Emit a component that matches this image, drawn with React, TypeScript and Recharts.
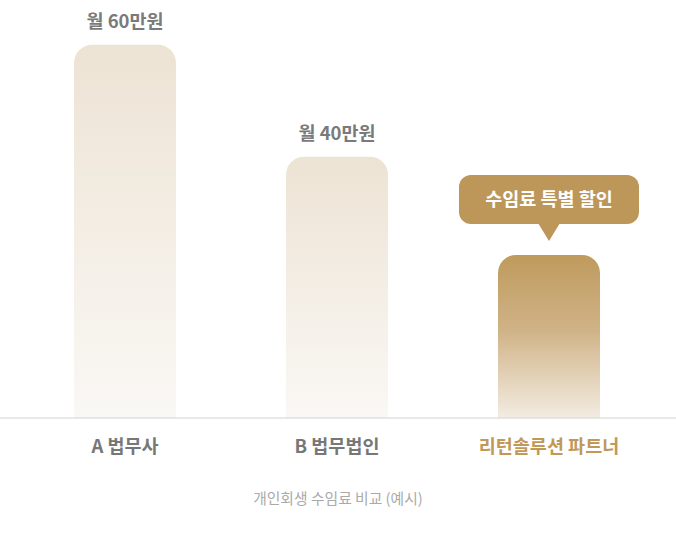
import React from "react";
import { BarChart, Bar, XAxis, YAxis, Cell, LabelList } from "recharts";

const categories = ["A 법무사", "B 법무법인", "리턴솔루션 파트너"];
const barLevels = [100, 70, 43.7];
const priceLabels = ["월 60만원", "월 40만원", "수임료 특별 할인"];
const caption = "개인회생 수임료 비교 (예시)";

const data = categories.map((name, i) => ({
  name,
  level: barLevels[i],
  label: priceLabels[i],
}));

const FONT = "'Noto Sans CJK KR', 'Noto Sans', sans-serif";
const GOLD = "#bd965a";

function BarLabel(props: any) {
  const { x, y, width, index, value } = props;
  const cx = x + width / 2;
  if (index < 2) {
    return (
      <text
        x={cx}
        y={y - 17}
        textAnchor="middle"
        fill="#7a7a7a"
        fontSize={18.5}
        fontWeight={700}
        fontFamily={FONT}
      >
        {value}
      </text>
    );
  }
  const w = 180;
  const h = 49;
  const r = 12;
  const bottom = y - 31;
  const top = bottom - h;
  const left = cx - w / 2;
  return (
    <g>
      <rect x={left} y={top} width={w} height={h} rx={r} ry={r} fill={GOLD} />
      <path
        d={`M ${cx - 11} ${bottom - 1} L ${cx + 11} ${bottom - 1} L ${cx} ${bottom + 17} Z`}
        fill={GOLD}
      />
      <text
        x={cx}
        y={top + h / 2 + 6.5}
        textAnchor="middle"
        fill="#ffffff"
        fontSize={18.5}
        fontWeight={700}
        fontFamily={FONT}
      >
        {value}
      </text>
    </g>
  );
}

function CategoryTick(props: any) {
  const { x, y, payload, index } = props;
  return (
    <text
      x={x}
      y={y + 27}
      textAnchor="middle"
      fill={index === 2 ? "#c09858" : "#777777"}
      fontSize={18.5}
      fontWeight={700}
      fontFamily={FONT}
    >
      {payload.value}
    </text>
  );
}

export default function App() {
  return (
    <div
      style={{
        position: "absolute",
        left: 0,
        top: 0,
        width: 676,
        height: 549,
        background: "#ffffff",
        fontFamily: FONT,
      }}
    >
      <BarChart
        width={676}
        height={549}
        data={data}
        margin={{ top: 0, right: 0, bottom: 0, left: 0 }}
      >
        <defs>
          <linearGradient id="plainGrad" x1="0" y1="0" x2="0" y2="1">
            <stop offset="0%" stopColor="#ede3d4" />
            <stop offset="100%" stopColor="#faf8f5" />
          </linearGradient>
          <linearGradient id="goldGrad" x1="0" y1="0" x2="0" y2="1">
            <stop offset="0%" stopColor="#bf9a5d" />
            <stop offset="45%" stopColor="#cfb285" />
            <stop offset="100%" stopColor="#f3ece2" />
          </linearGradient>
        </defs>
        <XAxis
          dataKey="name"
          height={131}
          padding={{ left: 19, right: 21 }}
          axisLine={{ stroke: "#d2d2d2", strokeWidth: 1 }}
          tickLine={false}
          interval={0}
          tick={<CategoryTick />}
        />
        <YAxis hide domain={[0, 112]} />
        <Bar
          dataKey="level"
          barSize={102}
          radius={[18, 18, 0, 0]}
          isAnimationActive={false}
        >
          {data.map((d, i) => (
            <Cell key={d.name} fill={i === 2 ? "url(#goldGrad)" : "url(#plainGrad)"} />
          ))}
          <LabelList dataKey="label" content={<BarLabel />} />
        </Bar>
      </BarChart>
      <div
        style={{
          position: "absolute",
          left: 0,
          top: 487,
          width: 676,
          textAlign: "center",
          fontSize: 14.8,
          color: "#aaaaaa",
          fontFamily: FONT,
        }}
      >
        {caption}
      </div>
    </div>
  );
}
